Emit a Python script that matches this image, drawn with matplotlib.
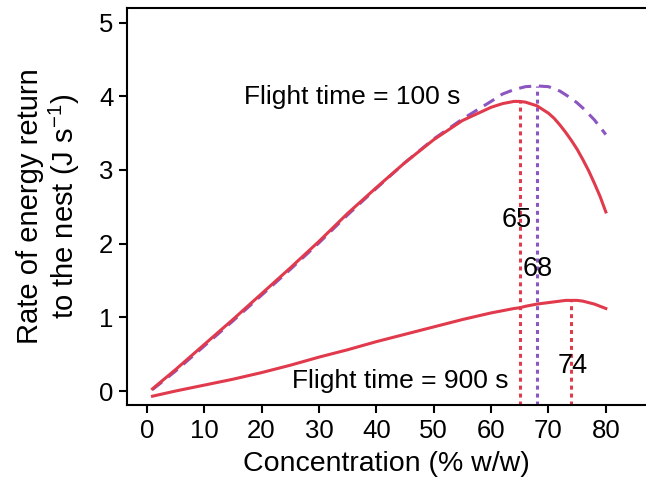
import matplotlib
matplotlib.use("Agg")
import matplotlib.pyplot as plt
import numpy as np

plt.rcParams['font.family'] = ['Liberation Sans', 'DejaVu Sans']
plt.rcParams['mathtext.fontset'] = 'custom'
plt.rcParams['mathtext.rm'] = 'Liberation Sans'

# concentration (% w/w)
conc = [1, 5, 10, 15, 20, 25, 30, 35, 40, 45, 50, 55, 60, 62, 64, 65, 66,
        68, 70, 71, 72, 73, 74, 75, 76, 77, 78, 79, 80]

# flight time 100 s, solid red
rate_100 = [0.03, 0.29, 0.63, 0.97, 1.32, 1.67, 2.03, 2.41, 2.76, 3.10, 3.41,
            3.67, 3.85, 3.90, 3.93, 3.93, 3.92, 3.87, 3.77, 3.70, 3.61, 3.51,
            3.40, 3.28, 3.14, 2.99, 2.82, 2.64, 2.43]

# flight time 100 s, dashed purple
rate_100_alt = [0.02, 0.27, 0.61, 0.95, 1.30, 1.65, 2.01, 2.39, 2.75, 3.10,
                3.42, 3.69, 3.93, 4.03, 4.09, 4.11, 4.13, 4.14, 4.13, 4.10,
                4.07, 4.02, 3.97, 3.91, 3.84, 3.76, 3.68, 3.58, 3.48]

# flight time 900 s, solid red
rate_900 = [-0.07, 0.00, 0.08, 0.16, 0.25, 0.35, 0.46, 0.56, 0.67, 0.77, 0.87,
            0.97, 1.06, 1.09, 1.12, 1.13, 1.15, 1.18, 1.20, 1.21, 1.22, 1.23,
            1.23, 1.23, 1.22, 1.20, 1.18, 1.15, 1.12]

# optimum concentrations and peak heights
opt_x = [65, 68, 74]
opt_y = [3.93, 4.14, 1.23]
opt_lab = ["65", "68", "74"]
opt_lab_pos = [(64.4, 2.32), (68.2, 1.65), (74.2, 0.34)]

red = '#E03A4C'
purple = '#8C55C2'
opt_col = [red, purple, red]

fig = plt.figure(figsize=(6.46, 4.88), dpi=100)
ax = fig.add_axes([0.197, 0.170, 0.803, 0.814])

ax.plot(conc, rate_100, color=red, lw=2.2, zorder=3)
ax.plot(conc, rate_100_alt, color=purple, lw=2.2, dashes=(4, 2.5), zorder=2)
ax.plot(conc, rate_900, color=red, lw=2.2, zorder=3)

ymin = -0.19
for xv, yv, c in zip(opt_x, opt_y, opt_col):
    ax.vlines(xv, ymin, yv, colors=c, lw=2.2, linestyles=(0, (1.3, 1.3)), zorder=1)

for lab, (lx, ly) in zip(opt_lab, opt_lab_pos):
    ax.text(lx, ly, lab, fontsize=19.5, ha='center', va='center')

ax.text(35.8, 3.99, "Flight time = 100 s", fontsize=19, ha='center', va='center')
ax.text(44.2, 0.13, "Flight time = 900 s", fontsize=19, ha='center', va='center')

ax.set_xlim(-3.4, 87)
ax.set_ylim(ymin, 5.2)
ax.set_xticks(np.arange(0, 81, 10))
ax.set_yticks(np.arange(0, 6, 1))
ax.tick_params(labelsize=18.5, width=1.5, length=6, direction='out', pad=4)
for s in ['left', 'top', 'bottom']:
    ax.spines[s].set_linewidth(1.5)
ax.spines['right'].set_visible(False)

ax.set_xlabel("Concentration (% w/w)", fontsize=20.5, labelpad=6)
ax.set_ylabel("Rate of energy return\nto the nest (J s$^{\\mathrm{-1}}$)", fontsize=21,
              labelpad=12, linespacing=1.1)

fig.savefig("out.png", dpi=100)
